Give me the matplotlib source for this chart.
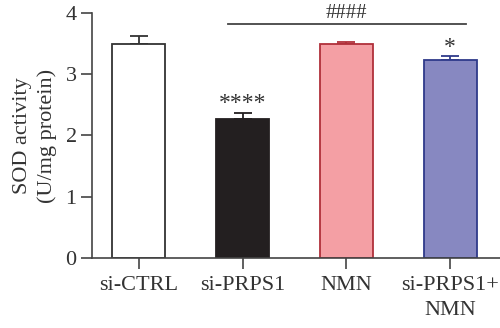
import numpy as np
import matplotlib
matplotlib.use("Agg")
import matplotlib.pyplot as plt

plt.rcParams['font.family'] = ['Liberation Serif', 'DejaVu Serif']

# Data
groups = ["si-CTRL", "si-PRPS1", "NMN", "si-PRPS1+\nNMN"]
means = [3.50, 2.27, 3.49, 3.24]
errs = [0.12, 0.10, 0.04, 0.05]
stars = ["", "****", "", "*"]
fills = ["#FFFFFF", "#231F20", "#F49FA4", "#8788C1"]
edges = ["#333333", "#231F20", "#B0303A", "#2F3A8A"]

fig = plt.figure(figsize=(5.0, 3.28), dpi=100)
ax = fig.add_axes([0.184, 0.2134, 0.816, 0.747])

x = np.arange(len(groups))
ax.bar(x, means, width=0.51, color=fills, edgecolor=edges, linewidth=1.3, zorder=2)
for xi, m, e, ec, s in zip(x, means, errs, edges, stars):
    ax.errorbar(xi, m, yerr=[[0], [e]], fmt='none', ecolor=ec, elinewidth=1.3,
                capsize=6.5, capthick=1.3, zorder=1)
    if s:
        ax.text(xi, m + e - 0.02, s, ha='center', va='bottom', fontsize=17, color='#333333')

# bracket for ####
ax.plot([0.86, 3.15], [3.82, 3.82], color='#444444', lw=1.3, clip_on=False)
ax.text(2.0, 3.84, "####", ha='center', va='bottom', fontsize=15, color='#333333')

ax.set_xlim(-0.45, 3.48)
ax.set_ylim(0, 4)
ax.set_yticks([0, 1, 2, 3, 4])
ax.set_xticks(x)
ax.set_xticklabels(groups, linespacing=1.45)
ax.set_ylabel("SOD activity\n(U/mg protein)", fontsize=16, color='#333333',
              labelpad=6, linespacing=1.4)

for sp in ['top', 'right']:
    ax.spines[sp].set_visible(False)
for sp in ['left', 'bottom']:
    ax.spines[sp].set_linewidth(1.2)
    ax.spines[sp].set_color('#444444')
ax.tick_params(axis='both', length=8, width=1.2, color='#444444',
               labelsize=16, labelcolor='#333333', pad=3)
ax.tick_params(axis='x', pad=5)

fig.savefig("out.png", dpi=100)
